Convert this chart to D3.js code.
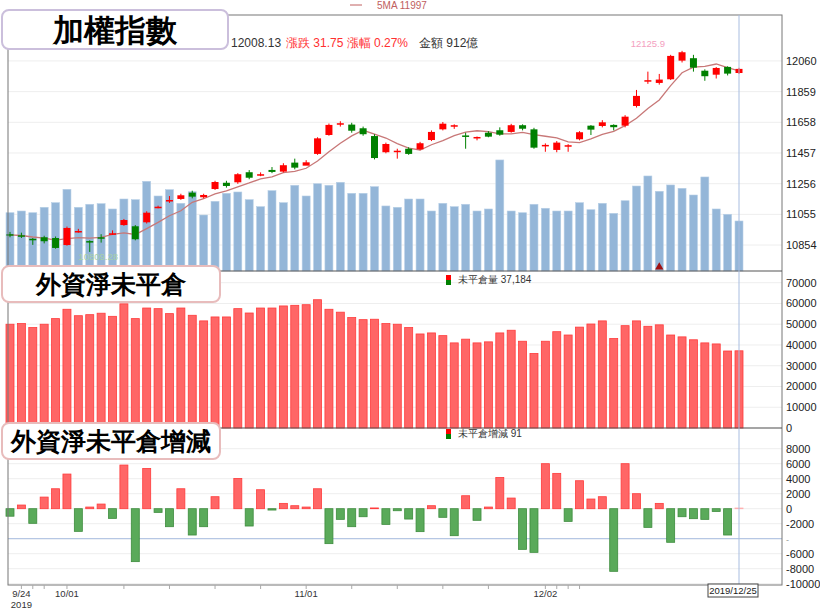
<!DOCTYPE html>
<html><head><meta charset="utf-8">
<script src="https://cdn.jsdelivr.net/npm/d3@7"></script>
<style>
body{margin:0;background:#fff;}
text{font-family:"Liberation Sans",Arial,sans-serif;}
</style></head>
<body><svg id="c" width="820" height="612"></svg>
<script>
var dates = ["09/24","09/25","09/26","09/27","09/30",
 "10/01","10/02","10/03","10/04","10/07","10/08","10/09","10/14","10/15","10/16","10/17","10/18","10/21","10/22","10/23","10/24","10/25","10/28","10/29","10/30","10/31",
 "11/01","11/04","11/05","11/06","11/07","11/08","11/11","11/12","11/13","11/14","11/15","11/18","11/19","11/20","11/21","11/22","11/25","11/26","11/27","11/28","11/29",
 "12/02","12/03","12/04","12/05","12/06","12/09","12/10","12/11","12/12","12/13","12/16","12/17","12/18","12/19","12/20","12/23","12/24","12/25"];
var openP = [10925,10918,10895,10905,10900,10854,10940,10880,10905,10928,10985,10977,11003,11100,11145,11156,11197,11167,11221,11262,11265,11331,11315,11346,11335,11394,11374,11451,11575,11648,11643,11619,11568,11462,11468,11485,11481,11542,11612,11636,11572,11558,11590,11606,11595,11639,11612,11506,11477,11505,11547,11636,11634,11641,11636,11765,11930,11916,11940,12062,12078,11996,11970,12021,11981];
var closeP = [10920,10913,10887,10879,10835,10966,10946,10872,10902,10931,11018,10892,11066,11105,11149,11180,11171,11182,11267,11241,11318,11295,11318,11333,11377,11361,11396,11553,11641,11652,11603,11580,11424,11516,11472,11451,11521,11595,11649,11639,11568,11562,11564,11577,11639,11616,11492,11510,11525,11508,11593,11610,11658,11626,11695,11831,11934,11938,12093,12117,12016,11960,12014,11977,12008];
var highP = [10940,10935,10900,10915,10910,10975,10960,10885,10925,10950,11025,10985,11075,11112,11175,11190,11210,11190,11275,11275,11325,11345,11330,11365,11390,11420,11410,11560,11650,11665,11655,11630,11580,11525,11485,11495,11530,11605,11660,11645,11590,11565,11600,11625,11648,11645,11622,11520,11535,11515,11600,11640,11672,11645,11705,11870,11990,11975,12100,12126,12100,12005,12020,12025,12015];
var lowP = [10905,10900,10855,10865,10830,10850,10935,10809,10870,10920,10980,10885,10995,11095,11130,11150,11160,11160,11215,11230,11255,11285,11305,11325,11330,11350,11385,11445,11570,11630,11590,11570,11415,11455,11420,11445,11475,11535,11605,11615,11485,11540,11560,11570,11590,11605,11485,11465,11462,11465,11540,11575,11625,11605,11625,11755,11910,11905,11935,12050,11990,11930,11945,11965,11975];
var amount = [1063,1094,1063,1162,1246,1490,1162,1217,1228,1131,1313,1301,1636,1368,1483,1235,1446,1021,1271,1417,1441,1301,1173,1465,1246,1563,1368,1592,1563,1618,1417,1417,1538,1186,1162,1313,1313,1094,1235,1173,1217,1094,1131,2025,1094,1063,1217,1144,1094,1094,1246,1118,1235,1052,1282,1550,1733,1454,1569,1508,1386,1715,1131,1034,912];
var oi = [50000,50300,48400,50000,52700,57200,54100,54600,55300,53800,59800,52700,57800,57500,55100,57800,54300,51600,53500,53500,57500,55400,57800,57800,58800,59100,59400,61800,57200,55800,53200,52200,52400,50300,50000,48400,45300,45800,44500,41000,42800,41000,41500,45800,47100,41800,35900,41800,46400,44800,48600,50100,51600,43100,49300,51600,49000,49700,44800,43900,42500,41000,40500,37093,37184];
var oiChg = [-1000,490,-1950,1550,2660,4620,-3020,220,620,-1290,5820,-7060,5370,-490,-2400,2660,-3510,-2400,1600,0,4040,-2310,2530,-180,710,400,220,2660,-4660,-1420,-2400,-1070,100,-2090,-270,-1380,-3060,400,-1150,-3600,1730,-1550,220,4170,1420,-5420,-5820,6000,4710,-1690,3730,1290,1600,-8350,6000,2000,-2490,710,-4480,-1070,-1330,-1420,-360,-3510,91];
var priceTicks = [10854,11055,11256,11457,11658,11859,12060];
var oiTicks = [0,10000,20000,30000,40000,50000,60000,70000];
var chgTicks = [8000,6000,4000,2000,0,-2000,-6000,-8000,-10000];
var xLabels = [{d:"10/01"},{d:"11/01"},{d:"12/02"}];
var minorTicks = ["09/25","09/26","09/27","10/01","10/08","10/16","10/22","10/28","11/01","11/07","11/13","11/19","11/25","12/02","12/03","12/04","12/05"];

var svg = d3.select("#c");
var L = 8, R = 782, T = 15, B1 = 271, B2 = 428, B3 = 585;
var RED = "#ff0000", GRN = "#008000";

var x = d3.scalePoint().domain(dates).range([10, 739]);
var yP = d3.scaleLinear().domain([10684, 12361]).range([B1, T]);
var yV = d3.scaleLinear().domain([0, 4669]).range([B1, T]);
var yO = d3.scaleLinear().domain([0, 70000]).range([B2, 282.7]);
var yC = d3.scaleLinear().domain([0, 8000]).range([508.7, 448.7]);

// grids
function grid(scale, ticks) {
  svg.append("g").selectAll("line").data(ticks).enter().append("line")
    .attr("x1", L).attr("x2", R).attr("y1", d => scale(d)).attr("y2", d => scale(d))
    .attr("stroke", "#eeeeee");
}
grid(yP, priceTicks); grid(yO, oiTicks); grid(yC, chgTicks.concat([-4000]));

// volume
svg.append("g").selectAll("rect").data(amount).enter().append("rect")
  .attr("x", (d, i) => x(dates[i]) - 4).attr("width", 8)
  .attr("y", d => yV(d)).attr("height", d => B1 - yV(d))
  .attr("fill", "#94b6d8").attr("stroke", "#b7cfe6").attr("stroke-width", 0.6);

// 5MA
var ma = closeP.map((c, i) => d3.mean(closeP.slice(Math.max(0, i - 4), i + 1)));
svg.append("path").datum(ma)
  .attr("d", d3.line().x((d, i) => x(dates[i])).y(d => yP(d)))
  .attr("fill", "none").attr("stroke", "#c87878").attr("stroke-width", 1.3);

// candles
var cg = svg.append("g").selectAll("g").data(dates).enter().append("g");
cg.append("line")
  .attr("x1", d => x(d)).attr("x2", d => x(d))
  .attr("y1", (d, i) => yP(highP[i])).attr("y2", (d, i) => yP(lowP[i]))
  .attr("stroke", (d, i) => closeP[i] >= openP[i] ? RED : GRN);
cg.append("rect")
  .attr("x", d => x(d) - 3.5).attr("width", 7)
  .attr("y", (d, i) => yP(Math.max(openP[i], closeP[i])))
  .attr("height", (d, i) => Math.max(1.5, Math.abs(yP(openP[i]) - yP(closeP[i]))))
  .attr("fill", (d, i) => closeP[i] >= openP[i] ? RED : GRN);

// open interest
svg.append("g").selectAll("rect").data(oi).enter().append("rect")
  .attr("x", (d, i) => x(dates[i]) - 4).attr("width", 8)
  .attr("y", d => yO(d)).attr("height", d => B2 - yO(d))
  .attr("fill", "#ff6666").attr("stroke", "#ff3b3b").attr("stroke-width", 0.8);

// change
svg.append("line").attr("x1", L).attr("x2", R).attr("y1", yC(-4000)).attr("y2", yC(-4000))
  .attr("stroke", "#a8bde0");
svg.append("g").selectAll("rect").data(oiChg).enter().append("rect")
  .attr("x", (d, i) => x(dates[i]) - 4).attr("width", 8)
  .attr("y", d => yC(Math.max(0, d))).attr("height", d => Math.abs(yC(d) - yC(0)))
  .attr("fill", (d, i) => i == oiChg.length - 1 ? "#ffb0b0" : d >= 0 ? "#ff6666" : "#5aaa5a")
  .attr("stroke", (d, i) => i == oiChg.length - 1 ? "#ffb0b0" : d >= 0 ? "#ff3b3b" : "#3d8c3d")
  .attr("stroke-width", 0.8);

// frames
svg.append("rect").attr("x", L).attr("y", T).attr("width", R - L).attr("height", B3 - T)
  .attr("fill", "none").attr("stroke", "#777");
[B1, B2].forEach(y => svg.append("line").attr("x1", L).attr("x2", R).attr("y1", y).attr("y2", y).attr("stroke", "#555").attr("stroke-width", 1.2));
svg.append("line").attr("x1", x("12/25")).attr("x2", x("12/25")).attr("y1", T).attr("y2", B3 + 4)
  .attr("stroke", "#a8bde0");

// right axes
function raxis(scale, ticks, fmt) {
  svg.append("g").selectAll("text").data(ticks).enter().append("text")
    .attr("x", 786).attr("y", d => scale(d) + 4).attr("font-size", 11).attr("fill", "#222")
    .text(fmt);
}
raxis(yP, priceTicks, d => d);
raxis(yO, oiTicks, d => d);
raxis(yC, chgTicks, d => d);
svg.append("text").attr("x", 786).attr("y", yC(-4000) + 4).attr("font-size", 9).attr("fill", "#999").text("-");

// bottom ticks
svg.append("g").selectAll("line").data(minorTicks).enter().append("line")
  .attr("x1", d => x(d)).attr("x2", d => x(d)).attr("y1", B3).attr("y2", B3 + 4).attr("stroke", "#aaa");
svg.append("g").selectAll("text").data(xLabels).enter().append("text")
  .attr("x", d => x(d.d)).attr("y", 597).attr("text-anchor", "middle").attr("font-size", 9.5).attr("fill", "#333")
  .text(d => d.d);
svg.append("text").attr("x", x("09/25")).attr("y", 597).attr("text-anchor", "middle").attr("font-size", 9.5).attr("fill", "#333").text("9/24");
svg.append("text").attr("x", x("09/25")).attr("y", 608).attr("text-anchor", "middle").attr("font-size", 9.5).attr("fill", "#333").text("2019");
svg.append("rect").attr("x", 708).attr("y", 584).attr("width", 50).attr("height", 13).attr("fill", "#fff").attr("stroke", "#444");
svg.append("text").attr("x", 733).attr("y", 594).attr("text-anchor", "middle").attr("font-size", 9.5).attr("fill", "#222").text("2019/12/25");

// header
svg.append("line").attr("x1", 350).attr("x2", 362).attr("y1", 5).attr("y2", 5).attr("stroke", "#c06060");
svg.append("text").attr("x", 377).attr("y", 9).attr("font-size", 10).attr("fill", "#c06060").text("5MA 11997");
svg.append("text").attr("x", 231).attr("y", 47).attr("font-size", 12).attr("fill", "#333").text("12008.13");
svg.append("text").attr("x", 286).attr("y", 47).attr("font-size", 12).attr("fill", "#ff3030").text("漲跌 31.75");
svg.append("text").attr("x", 347).attr("y", 47).attr("font-size", 12).attr("fill", "#ff3030").text("漲幅");
svg.append("text").attr("x", 374).attr("y", 47).attr("font-size", 12).attr("fill", "#ff3030").text("0.27%");
svg.append("text").attr("x", 419).attr("y", 47).attr("font-size", 12).attr("fill", "#333").text("金額 912億");
svg.append("text").attr("x", x("12/13")).attr("y", 47).attr("text-anchor", "middle").attr("font-size", 9.5).attr("fill", "#f4a0c0").text("12125.9");
svg.append("text").attr("x", x("10/02")).attr("y", 260).attr("font-size", 9.5).attr("fill", "#a8d0a8").text("10809.28");
svg.append("path").attr("d", d3.symbol(d3.symbolTriangle, 30)()).attr("transform", "translate(" + x("12/16") + ",267)").attr("fill", "#a01010");

// legends
[[283, "未平倉量 37,184"], [437, "未平倉增減 91"]].forEach(l => {
  svg.append("rect").attr("x", 446).attr("y", l[0] - 8).attr("width", 5).attr("height", 5).attr("fill", RED);
  svg.append("rect").attr("x", 446).attr("y", l[0] - 3).attr("width", 5).attr("height", 5).attr("fill", GRN);
  svg.append("text").attr("x", 458).attr("y", l[0]).attr("font-size", 10).attr("fill", "#333").text(l[1]);
});

// title boxes
[[2, 10, 226, 39, "#cbbfdc", "加權指數"], [2, 266, 218, 36, "#e8bcbc", "外資淨未平倉"], [2, 423, 218, 36, "#e8bcbc", "外資淨未平倉增減"]].forEach(b => {
  svg.append("rect").attr("x", b[0]).attr("y", b[1]).attr("width", b[2]).attr("height", b[3]).attr("rx", 7)
    .attr("fill", "#fff").attr("stroke", b[4]).attr("stroke-width", 2);
  svg.append("text").attr("x", b[0] + b[2] / 2).attr("y", b[1] + b[3] / 2 + (b[5].length > 4 ? 9 : 11))
    .attr("text-anchor", "middle").attr("font-family", "'Noto Sans CJK TC'").attr("font-weight", 900)
    .attr("font-size", b[5].length > 4 ? 25 : 31).attr("fill", "#000").text(b[5]);
});
</script></body></html>
